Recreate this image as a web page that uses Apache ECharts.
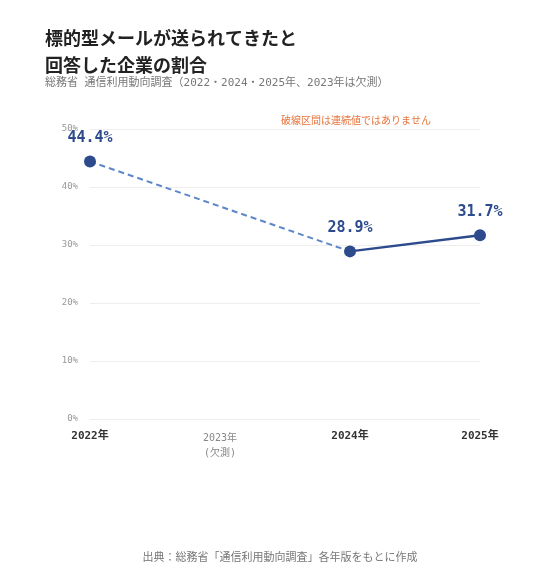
<!DOCTYPE html>
<html><head><meta charset="utf-8">
<script src="https://cdn.jsdelivr.net/npm/echarts@6/dist/echarts.min.js"></script>
<style>body{margin:0;background:#fff}#c{width:560px;height:580px}</style>
</head><body><div id="c"></div>
<script>
const years = ['2022年', '2023年\n(欠測)', '2024年', '2025年'];
const rates = [44.4, null, 28.9, 31.7];
const dashedPart = [44.4, null, 28.9, null];
const solidPart = [null, null, 28.9, 31.7];
const yTicks = [0, 10, 20, 30, 40, 50];

const mono = '"DejaVu Sans Mono", "Noto Sans CJK JP", monospace';
const jp = '"Noto Sans CJK JP", sans-serif';
const chart = echarts.init(document.getElementById('c'));
chart.setOption({
  animation: false,
  title: [
    {text: '標的型メールが送られてきたと\n回答した企業の割合', left: 40, top: 20,
     textStyle: {fontFamily: jp, fontSize: 18, fontWeight: 'bold', color: '#222', lineHeight: 27}},
    {text: '総務省 通信利用動向調査（2022・2024・2025年、2023年は欠測）', left: 40, top: 73,
     textStyle: {fontFamily: mono, fontSize: 11, fontWeight: 'normal', color: '#777'}},
    {text: '破線区間は連続値ではありません', left: 276, top: 111,
     textStyle: {fontFamily: mono, fontSize: 10, fontWeight: 'normal', color: '#e8743b'}},
    {text: '出典：総務省「通信利用動向調査」各年版をもとに作成', left: 'center', top: 548,
     textStyle: {fontFamily: mono, fontSize: 11, fontWeight: 'normal', color: '#777'}}
  ],
  grid: {left: 90, right: 80, top: 129, bottom: 161},
  xAxis: {
    type: 'category', data: years, boundaryGap: false,
    axisLine: {show: false}, axisTick: {show: false},
    axisLabel: {margin: 12, fontFamily: mono, interval: 0,
      formatter: (v, i) => i === 1 ? '{s|' + v + '}' : v,
      fontSize: 11, color: '#333', fontWeight: 'bold',
      rich: {s: {fontSize: 10, color: '#888', fontWeight: 'normal', fontFamily: mono, lineHeight: 15}}}
  },
  yAxis: {
    type: 'value', min: yTicks[0], max: yTicks[yTicks.length - 1], interval: 10,
    axisLine: {show: false}, axisTick: {show: false},
    axisLabel: {formatter: '{value}%', fontFamily: mono, fontSize: 9, color: '#999', margin: 12},
    splitLine: {lineStyle: {color: '#eee'}}
  },
  series: [
    {type: 'line', data: dashedPart, connectNulls: true, showSymbol: false,
     lineStyle: {color: '#5b86c9', width: 2, type: [6, 4]}, z: 1},
    {type: 'line', data: solidPart, showSymbol: false,
     lineStyle: {color: '#2c4a8c', width: 2.5}, z: 2},
    {type: 'line', data: rates, lineStyle: {opacity: 0}, symbol: 'circle', symbolSize: 12,
     itemStyle: {color: '#2c4a8c'}, z: 3,
     label: {show: true, position: 'top', distance: 10, formatter: p => p.value + '%',
       fontFamily: mono, fontWeight: 'bold', fontSize: 15, color: '#2c4a8c'}}
  ]
});
</script></body></html>
